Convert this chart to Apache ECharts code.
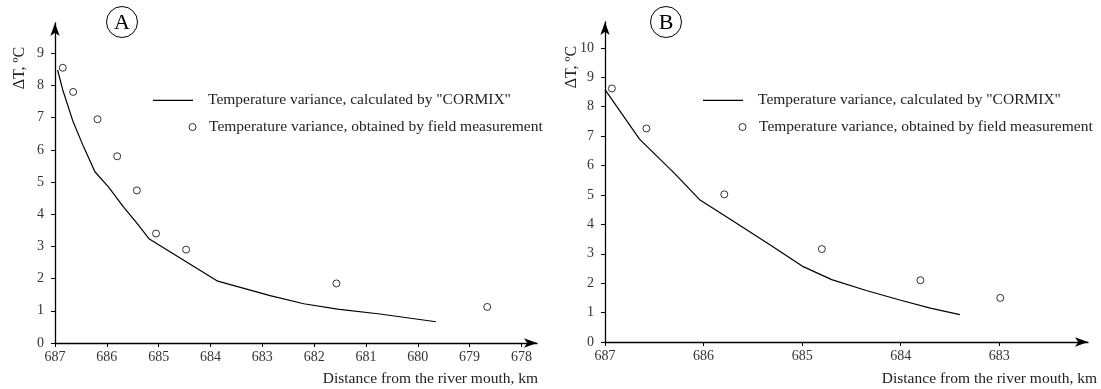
<!DOCTYPE html>
<html>
<head>
<meta charset="utf-8">
<script src="https://cdn.jsdelivr.net/npm/echarts@6/dist/echarts.min.js"></script>
<style>
  html, body { margin: 0; padding: 0; background: #fff; }
  #chart { width: 1101px; height: 389px; }
</style>
</head>
<body>
<div id="chart"></div>
<script>
// panel A
const xTicksA = [687, 686, 685, 684, 683, 682, 681, 680, 679, 678];
const yTicksA = [0, 1, 2, 3, 4, 5, 6, 7, 8, 9];
const cormixA = [
  [686.95, 8.48], [686.85, 7.86], [686.65, 6.87], [686.45, 6.1], [686.23, 5.32],
  [685.97, 4.85], [685.68, 4.23], [685.42, 3.72], [685.18, 3.23], [683.86, 1.92],
  [682.85, 1.47], [682.2, 1.22], [681.55, 1.05], [680.73, 0.9], [679.65, 0.66]
];
const fieldA = [
  [686.85, 8.55], [686.65, 7.8], [686.18, 6.95], [685.8, 5.8], [685.42, 4.74],
  [685.05, 3.4], [684.47, 2.9], [681.57, 1.85], [678.66, 1.12]
];

// panel B
const xTicksB = [687, 686, 685, 684, 683];
const yTicksB = [0, 1, 2, 3, 4, 5, 6, 7, 8, 9, 10];
const cormixB = [
  [687, 8.58], [686.65, 6.9], [686.3, 5.75], [686.04, 4.84], [685.67, 4.05],
  [685.3, 3.25], [685.0, 2.58], [684.7, 2.12], [684.35, 1.75], [684.0, 1.42],
  [683.7, 1.15], [683.4, 0.93]
];
const fieldB = [
  [686.93, 8.62], [686.58, 7.26], [685.79, 5.02], [684.8, 3.16], [683.8, 2.1], [682.99, 1.5]
];

const lineName = 'Temperature variance, calculated by "CORMIX"';
const pointName = 'Temperature variance, obtained by field measurement';
const yName = 'ΔT, ºC';
const xName = 'Distance from the river mouth, km';

const font = '"Liberation Serif", "DejaVu Serif", serif';
const chart = echarts.init(document.getElementById('chart'));

function xAxis(grid, min, ticks) {
  return {
    type: 'value', gridIndex: grid, inverse: true, min: min, max: 687,
    splitLine: { show: false },
    axisLine: { lineStyle: { color: '#000', width: 1.3 }, symbol: ['none', 'arrow'], symbolSize: [7, 13] },
    axisTick: { customValues: ticks, length: 4, lineStyle: { color: '#000' } },
    axisLabel: { customValues: ticks, margin: 7, color: '#333', fontFamily: font, fontSize: 14 }
  };
}
function yAxis(grid, max, ticks) {
  return {
    type: 'value', gridIndex: grid, min: 0, max: max,
    splitLine: { show: false },
    axisLine: { show: true, lineStyle: { color: '#000', width: 1.3 }, symbol: ['none', 'arrow'], symbolSize: [7, 13] },
    axisTick: { show: true, customValues: ticks, length: 4, lineStyle: { color: '#000' } },
    axisLabel: { customValues: ticks, margin: 11, color: '#333', fontFamily: font, fontSize: 14 }
  };
}
function legend(left, top, item, w, h, pad) {
  return {
    left: left, top: top, padding: 0, itemWidth: w, itemHeight: h, data: [item],
    selectedMode: false,
    itemStyle: { color: '#fff', borderColor: '#000', borderWidth: 1 },
    textStyle: { fontFamily: font, fontSize: 15.5, color: '#222', padding: [0, 0, 0, pad] }
  };
}
function letter(cx, cy, txt) {
  return [
    { type: 'circle', shape: { cx: cx, cy: cy, r: 15.5 }, style: { fill: '#fff', stroke: '#000', lineWidth: 1 } },
    { type: 'text', x: cx, y: cy + 1, style: { text: txt, fontFamily: font, fontSize: 22, fill: '#000', align: 'center', verticalAlign: 'middle' } }
  ];
}
const lineItem = { name: lineName, icon: 'rect', itemStyle: { color: '#000', borderWidth: 0 } };

chart.setOption({
  animation: false,
  backgroundColor: '#fff',
  grid: [
    { left: 55, top: 23, width: 482, height: 320 },
    { left: 605, top: 22, width: 483, height: 320 }
  ],
  xAxis: [xAxis(0, 677.7, xTicksA), xAxis(1, 682.1, xTicksB)],
  yAxis: [yAxis(0, 9.94, yTicksA), yAxis(1, 10.88, yTicksB)],
  legend: [
    legend(153, 92.4, lineItem, 40, 1.2, 10),
    legend(188.5, 119, pointName, 7, 7, 8),
    legend(703, 92.4, lineItem, 40, 1.2, 10),
    legend(738.5, 119, pointName, 7, 7, 8)
  ],
  series: [
    { name: lineName, type: 'line', xAxisIndex: 0, yAxisIndex: 0, data: cormixA, symbol: 'none',
      itemStyle: { color: '#000' }, lineStyle: { color: '#000', width: 1.2 } },
    { name: pointName, type: 'scatter', xAxisIndex: 0, yAxisIndex: 0, data: fieldA, symbol: 'circle', symbolSize: 7,
      itemStyle: { color: '#fff', borderColor: '#000', borderWidth: 1 } },
    { name: lineName, type: 'line', xAxisIndex: 1, yAxisIndex: 1, data: cormixB, symbol: 'none',
      itemStyle: { color: '#000' }, lineStyle: { color: '#000', width: 1.2 } },
    { name: pointName, type: 'scatter', xAxisIndex: 1, yAxisIndex: 1, data: fieldB, symbol: 'circle', symbolSize: 7,
      itemStyle: { color: '#fff', borderColor: '#000', borderWidth: 1 } }
  ],
  graphic: [
    ...letter(122, 22, 'A'),
    ...letter(666, 22, 'B'),
    { type: 'text', x: 20, y: 68, rotation: Math.PI / 2,
      style: { text: yName, fontFamily: font, fontSize: 16, fill: '#222', align: 'center', verticalAlign: 'middle' } },
    { type: 'text', x: 572, y: 67, rotation: Math.PI / 2,
      style: { text: yName, fontFamily: font, fontSize: 16, fill: '#222', align: 'center', verticalAlign: 'middle' } },
    { type: 'text', x: 538, y: 379,
      style: { text: xName, fontFamily: font, fontSize: 15.5, fill: '#222', align: 'right', verticalAlign: 'middle' } },
    { type: 'text', x: 1097, y: 379,
      style: { text: xName, fontFamily: font, fontSize: 15.5, fill: '#222', align: 'right', verticalAlign: 'middle' } }
  ]
});
</script>
</body>
</html>
